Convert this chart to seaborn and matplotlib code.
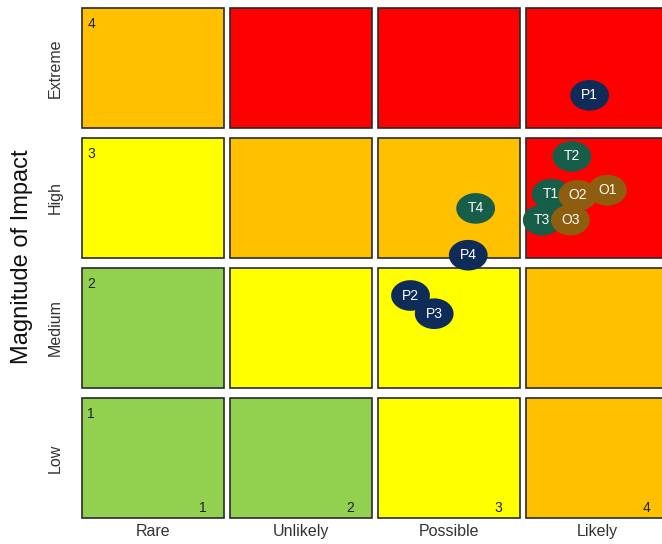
import numpy as np
import pandas as pd
import matplotlib
matplotlib.use("Agg")
import matplotlib.pyplot as plt
from matplotlib.path import Path
import seaborn as sns

# ---- data ----
likelihood = ["Rare", "Unlikely", "Possible", "Likely"]
impact = ["Low", "Medium", "High", "Extreme"]
# colour class per cell: rows Low..Extreme, cols Rare..Likely
cell_levels = [
    ["G", "G", "Y", "O"],
    ["G", "Y", "Y", "O"],
    ["Y", "O", "O", "R"],
    ["O", "R", "R", "R"],
]
level_colors = {"G": "#92D050", "Y": "#FFFF00", "O": "#FFC000", "R": "#FF0000"}

risk_ids = ["T2", "T1", "T3", "O1", "O2", "O3", "T4", "P1", "P2", "P3", "P4"]
risk_group = ["T", "T", "T", "O", "O", "O", "T", "P", "P", "P", "P"]
risk_x = [3.83, 3.69, 3.63, 4.07, 3.87, 3.82, 3.18, 3.95, 2.74, 2.90, 3.13]
risk_y = [3.32, 3.03, 2.83, 3.06, 3.02, 2.83, 2.92, 3.79, 2.25, 2.11, 2.56]
group_colors = {"P": "#0F2B58", "T": "#175E49", "O": "#8F5D10"}

# ---- figure ----
sns.set_theme(style="white")
plt.rcParams["font.family"] = ["Liberation Sans", "DejaVu Sans"]

fig = plt.figure(figsize=(6.62, 5.44), dpi=100)
ax = fig.add_axes([79 / 662, 21 / 544, 592 / 662, 520 / 544])

gx, gy = 0.02, 0.038
for r, row in enumerate(cell_levels):
    for c, lev in enumerate(row):
        x0 = c + 1
        y0 = r + 1
        ax.bar(x0, 1 - 2 * gy, bottom=y0 - 0.5 + gy, width=1 - 2 * gx,
               color=level_colors[lev], edgecolor="#2b2b2b", linewidth=1.2,
               zorder=1)

# corner numbers
for i in range(4):
    ax.text(0.5 + gx + 0.035, i + 1.5 - gy - 0.07, str(i + 1), ha="left", va="top",
            fontsize=10, color="#222222", zorder=2)
    ax.text(i + 1.5 - gx - 0.12, 0.5 + gy + 0.045, str(i + 1), ha="right",
            va="baseline", fontsize=10, color="#222222", zorder=2)

df = pd.DataFrame({"id": risk_ids, "group": risk_group, "x": risk_x, "y": risk_y})

t = np.linspace(0, 2 * np.pi, 60)
verts = np.column_stack([np.cos(t), 0.79 * np.sin(t)])
ellipse = Path(verts, closed=True)

sns.scatterplot(data=df, x="x", y="y", hue="group", palette=group_colors,
                marker=ellipse, s=780, linewidth=0, legend=False, ax=ax, zorder=3)
for _, rrow in df.iterrows():
    ax.text(rrow["x"], rrow["y"], rrow["id"], ha="center", va="center",
            color="white", fontsize=10, zorder=4)

ax.set_xlim(0.5, 4.5)
ax.set_ylim(0.5, 4.5)
ax.set_xticks([1, 2, 3, 4])
ax.set_xticklabels(likelihood, fontsize=11.5, color="#333333")
ax.set_yticks([1, 2, 3, 4])
ax.set_yticklabels(impact, fontsize=11.5, color="#333333", rotation=90, va="center")
ax.tick_params(axis="x", length=0, pad=1)
ax.tick_params(axis="y", length=0, pad=12)
ax.set_xlabel("")
ax.set_ylabel("Magnitude of Impact", fontsize=17, color="#111111")
ax.yaxis.set_label_coords(-0.078, 0.512)
for s in ax.spines.values():
    s.set_visible(False)

fig.savefig("out.png", dpi=100)
